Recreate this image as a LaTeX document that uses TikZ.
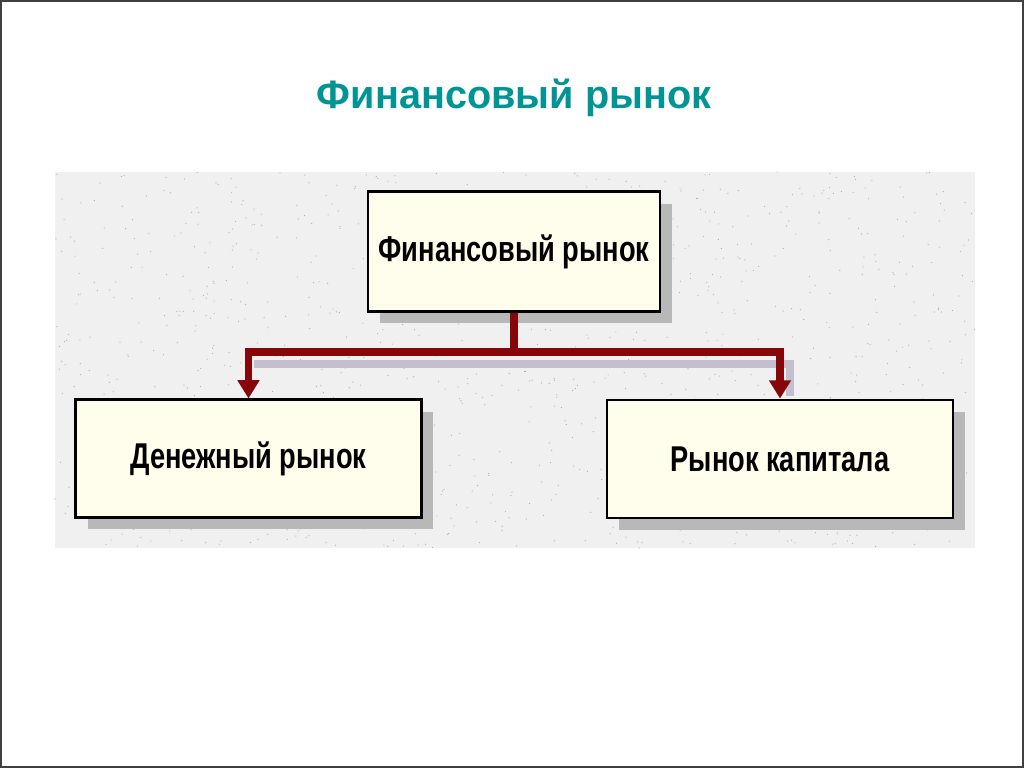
\documentclass[tikz,border=0pt]{standalone}
\usepackage{fontspec}
\setmainfont{Liberation Sans}
\newfontfamily\boxfont[FakeStretch=0.76]{Liberation Sans}
\usetikzlibrary{arrows.meta,shadows}

\definecolor{titleteal}{RGB}{0,148,148}
\definecolor{conndark}{RGB}{134,6,10}
\definecolor{connshade}{RGB}{196,190,206}
\definecolor{boxcream}{RGB}{255,253,236}
\definecolor{paper}{RGB}{240,240,240}

\tikzset{
    market/.style={draw=black, line width=2pt, fill=boxcream, inner sep=0pt,
        font=\boxfont\bfseries\fontsize{25.5}{30}\selectfont,
        drop shadow={shadow xshift=0.3cm, shadow yshift=-0.3cm, fill=black!28, opacity=1}},
    conn/.style={conndark, line width=5.5pt},
    connshadow/.style={connshade, line width=6pt},
    tip/.style={-{Triangle[width=15pt,length=13pt]}}
}

\begin{document}
\begin{tikzpicture}[x=0.025cm, y=0.025cm]
    % page and frame
    \useasboundingbox (0,0) rectangle (1024,768);
    \fill[white] (0,0) rectangle (1024,768);
    \draw[black!75, line width=1.5pt] (1,1) rectangle (1023,767);

    % title
    \node[titleteal, font=\bfseries\fontsize{28.2}{34}\selectfont] (title) at (514,670) {Финансовый рынок};

    % speckled background
    \fill[paper] (55,220) rectangle (975,596);
    \pgfmathsetseed{7}
    \foreach \i in {1,...,1100} {
        \fill[black!32] (55+920*rnd,220+376*rnd) circle (0.6);
    }

    % boxes
    \node[market, minimum width=7.3cm, minimum height=2.98cm] (fin) at (514,516.5) {Финансовый рынок};
    \node[market, minimum width=8.63cm, minimum height=2.93cm] (money) at (248.5,309.5) {Денежный рынок};
    \node[market, minimum width=8.65cm, minimum height=2.95cm] (capital) at (780,309) {Рынок капитала};

    \coordinate (bar) at (514,416);

    % connector shadow
    \begin{scope}[shift={(10,-12)}]
        \draw[connshadow] (244,416) -- (780,416) -- (780,384);
    \end{scope}

    % connectors
    \draw[conn] (fin.south) -- (bar);
    \draw[conn, tip] (bar) -| (money.north);
    \draw[conn, tip] (bar) -| (capital.north);
\end{tikzpicture}
\end{document}
